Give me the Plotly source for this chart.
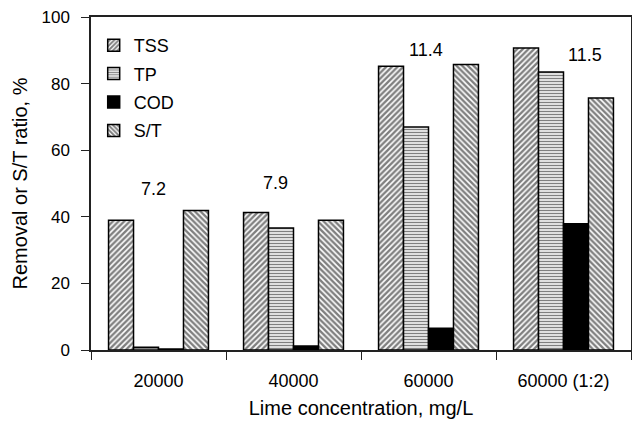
import plotly.graph_objects as go

categories = ["20000", "40000", "60000", "60000 (1:2)"]
tss = [39.0, 41.3, 85.2, 90.7]
tp = [0.8, 36.6, 67.0, 83.5]
cod = [0.3, 1.2, 6.5, 37.9]
st = [41.9, 39.0, 85.7, 75.7]
ratio_labels = ["7.2", "7.9", "11.4", "11.5"]
ratio_label_y = [48.5, 50.3, 90.0, 88.5]
ratio_label_offset = [-0.04, -0.13, -0.02, 0.16]

FONT = "Liberation Sans, Arial, sans-serif"

fig = go.Figure()
series = [
    ("TSS", tss, dict(color="white", pattern=dict(shape="/", size=4, solidity=0.6, fgcolor="black", bgcolor="white"))),
    ("TP", tp, dict(color="white", pattern=dict(shape="-", size=3, solidity=0.5, fgcolor="black", bgcolor="white"))),
    ("COD", cod, dict(color="black")),
    ("S/T", st, dict(color="white", pattern=dict(shape="\\", size=4, solidity=0.6, fgcolor="black", bgcolor="white"))),
]
for i, (name, vals, mk) in enumerate(series):
    mk = dict(mk)
    mk["line"] = dict(color="black", width=1.5)
    fig.add_trace(go.Bar(name=name, x=categories, y=vals, marker=mk, legendgroup=f"g{i}"))

for i, (lab, yv, off) in enumerate(zip(ratio_labels, ratio_label_y, ratio_label_offset)):
    fig.add_annotation(x=i + off, y=yv, xref="x", yref="y", text=lab, showarrow=False,
                       font=dict(family=FONT, size=18, color="black"))

fig.update_layout(
    width=632, height=425,
    margin=dict(l=91, r=1, t=17, b=75, autoexpand=False),
    paper_bgcolor="white", plot_bgcolor="white",
    barmode="group", bargap=0.26, bargroupgap=0.0,
    font=dict(family=FONT, color="black"),
    showlegend=True,
    legend=dict(x=0.005, y=0.97, xanchor="left", yanchor="top", bgcolor="rgba(0,0,0,0)",
                font=dict(family=FONT, size=18), traceorder="grouped", tracegroupgap=2,
                itemwidth=30),
    xaxis=dict(
        type="category", tickson="boundaries", ticks="outside", ticklen=8, tickcolor="#222",
        showline=True, linecolor="#222", linewidth=1.5, mirror=True,
        tickfont=dict(family=FONT, size=18), range=[-0.5, 3.5], ticklabelstandoff=14,
        title=dict(text="Lime concentration, mg/L", font=dict(family=FONT, size=20), standoff=11),
        showgrid=False, automargin=False,
    ),
    yaxis=dict(
        range=[0, 100], dtick=20, ticks="outside", ticklen=8, tickcolor="#222",
        showline=True, linecolor="#222", linewidth=1.5, mirror=True,
        tickfont=dict(family=FONT, size=17), showgrid=False, zeroline=False,
        ticklabelstandoff=8, automargin=False,
        title=dict(text="Removal or S/T ratio, %", font=dict(family=FONT, size=20), standoff=8),
    ),
)

fig.write_html("out.html")
